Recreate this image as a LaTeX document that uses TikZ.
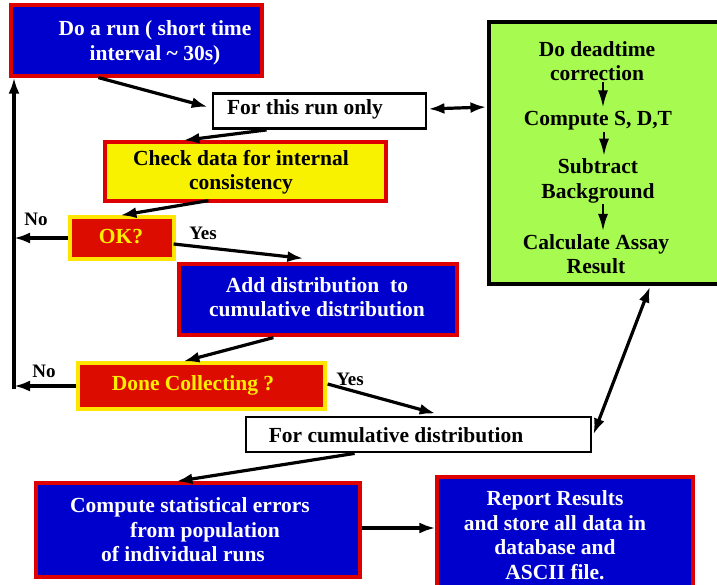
\documentclass[tikz,border=0pt]{standalone}
\usepackage{fontspec}
\setmainfont{Liberation Serif}
\usetikzlibrary{arrows.meta,calc}
\definecolor{boxblue}{RGB}{0,0,204}
\definecolor{boxred}{RGB}{222,0,0}
\definecolor{boxyellow}{RGB}{248,242,0}
\definecolor{okred}{RGB}{220,12,0}
\definecolor{oktext}{RGB}{255,238,0}
\definecolor{okborder}{RGB}{255,230,0}
\definecolor{boxgreen}{RGB}{166,250,80}
\begin{document}
\begin{tikzpicture}[x=1pt,y=-1pt,
  basebox/.style={rectangle, inner sep=0pt, line width=3.2pt},
  bluebox/.style={basebox, draw=boxred, fill=boxblue},
  yellowbox/.style={basebox, draw=boxred, fill=boxyellow},
  redbox/.style={basebox, draw=okborder, fill=okred},
  whitebox/.style={basebox, draw=black, fill=white, line width=2.8pt},
  greenbox/.style={basebox, draw=black, fill=boxgreen},
  txt/.style={inner sep=0pt, align=center, font=\fontsize{21.5}{24.5}\selectfont\bfseries},
  lbl/.style={inner sep=0pt, font=\fontsize{19}{22}\selectfont\bfseries},
  conn/.style={line width=3.2pt, -{Latex[length=16pt,width=11pt]}},
  dconn/.style={line width=3.2pt, {Latex[length=16pt,width=11pt]}-{Latex[length=16pt,width=11pt]}},
  gconn/.style={line width=2.2pt, -{Latex[length=17pt,width=10pt]}}]
\useasboundingbox (0,0) rectangle (717,584);

% boxes
\node[bluebox, minimum width=251pt, minimum height=71pt] (run) at (136.5,40.5) {};
\node[whitebox, minimum width=213pt, minimum height=35pt] (thisrun) at (319.5,111) {};
\node[greenbox, minimum width=234pt, minimum height=262pt] (green) at (606,153) {};
\node[yellowbox, minimum width=281pt, minimum height=59pt] (check) at (245.5,171.5) {};
\node[redbox, minimum width=104pt, minimum height=42pt] (ok) at (122,238) {};
\node[bluebox, minimum width=278pt, minimum height=71pt] (add) at (318,299.5) {};
\node[redbox, minimum width=247pt, minimum height=46pt] (done) at (201.5,386) {};
\node[whitebox, minimum width=345pt, minimum height=35pt] (cum) at (418.5,434.5) {};
\node[bluebox, minimum width=324pt, minimum height=94pt] (compute) at (198,530) {};
\node[bluebox, minimum width=256pt, minimum height=120pt] (report) at (565,537) {};

% texts
\node[txt, text=white] (truntxt) at (155,43) {Do a run ( short time\\interval \textasciitilde{} 30s)};
\node[txt] (tthis) at (305,109) {For this run only};
\node[txt] (tcheck) at (241,172) {Check data for internal\\consistency};
\node[txt, text=oktext] (tok) at (121,237) {OK?};
\node[txt, text=white] (tadd) at (317,297) {Add distribution\ \ to\\cumulative distribution};
\node[txt, text=oktext] (tdone) at (193,385) {Done Collecting ?};
\node[txt] (tcum) at (396,435) {For cumulative distribution};
\node[txt, text=white] (tcomp) at (190,530) {Compute statistical errors\\\hspace*{30pt}from population\\of individual runs\hspace*{14pt}};
\node[txt, text=white] (trep) at (555,535) {Report Results\\and store all data in\\database and\\ASCII file.};

% green box contents
\node[txt] (g1) at (597,61) {Do deadtime\\correction};
\node[txt] (g2) at (598,121) {Compute S, D,T};
\node[txt] (g3) at (598,181) {Subtract\\Background};
\node[txt] (g4) at (596,254) {Calculate Assay\\Result};
\draw[gconn, shorten <=1pt, shorten >=4pt] ([xshift=6pt]g1.south) -- ([xshift=5pt]g2.north);
\draw[gconn, shorten <=1pt, shorten >=3pt] ([xshift=6pt]g2.south) -- ([xshift=6pt]g3.north);
\draw[gconn, shorten <=1pt, shorten >=3pt] ([xshift=5pt]g3.south) -- ([xshift=7pt]g4.north);

% labels
\node[lbl] (no1) at (36,219) {No};
\node[lbl] (yes1) at (203,233) {Yes};
\node[lbl] (no2) at (44,371) {No};
\node[lbl] (yes2) at (350,379) {Yes};

% left return line
\coordinate (lb) at (14,389);
\draw[conn] (lb) -- (lb |- run.south);
\draw[conn] (ok.west) -- (ok.west -| lb);
\draw[conn] (done.west) -- (done.west -| lb);

% connectors
\draw[conn, shorten >=4pt] ($(run.south west)+(89,0)$) -- ($(thisrun.west)+(0,-3)$);
\draw[dconn, shorten <=1pt, shorten >=1pt] ($(thisrun.east)+(0,-2)$) -- ($(green.west)+(0,-46)$);
\draw[conn] ($(thisrun.south west)+(55,0)$) -- ($(check.north west)+(80,0)$);
\draw[conn] ($(check.south west)+(105,-2)$) -- ($(ok.north west)+(52,0)$);
\draw[conn] ($(ok.east)+(-2,6)$) -- ($(add.north west)+(126,-4)$);
\draw[conn] ($(add.south west)+(96,1)$) -- ($(done.north west)+(107,0)$);
\draw[conn] ($(done.east)+(1,-2)$) -- ($(cum.north west)+(191,-2)$);
\draw[dconn, shorten <=1pt] ($(green.south west)+(163,0)$) -- ($(cum.east)+(1,0)$);
\draw[conn] ($(cum.south west)+(110,0)$) -- ($(compute.north west)+(142,0)$);
\draw[conn] ($(compute.east)+(0,-2)$) -- ($(report.west)+(0,-9)$);
\end{tikzpicture}
\end{document}
